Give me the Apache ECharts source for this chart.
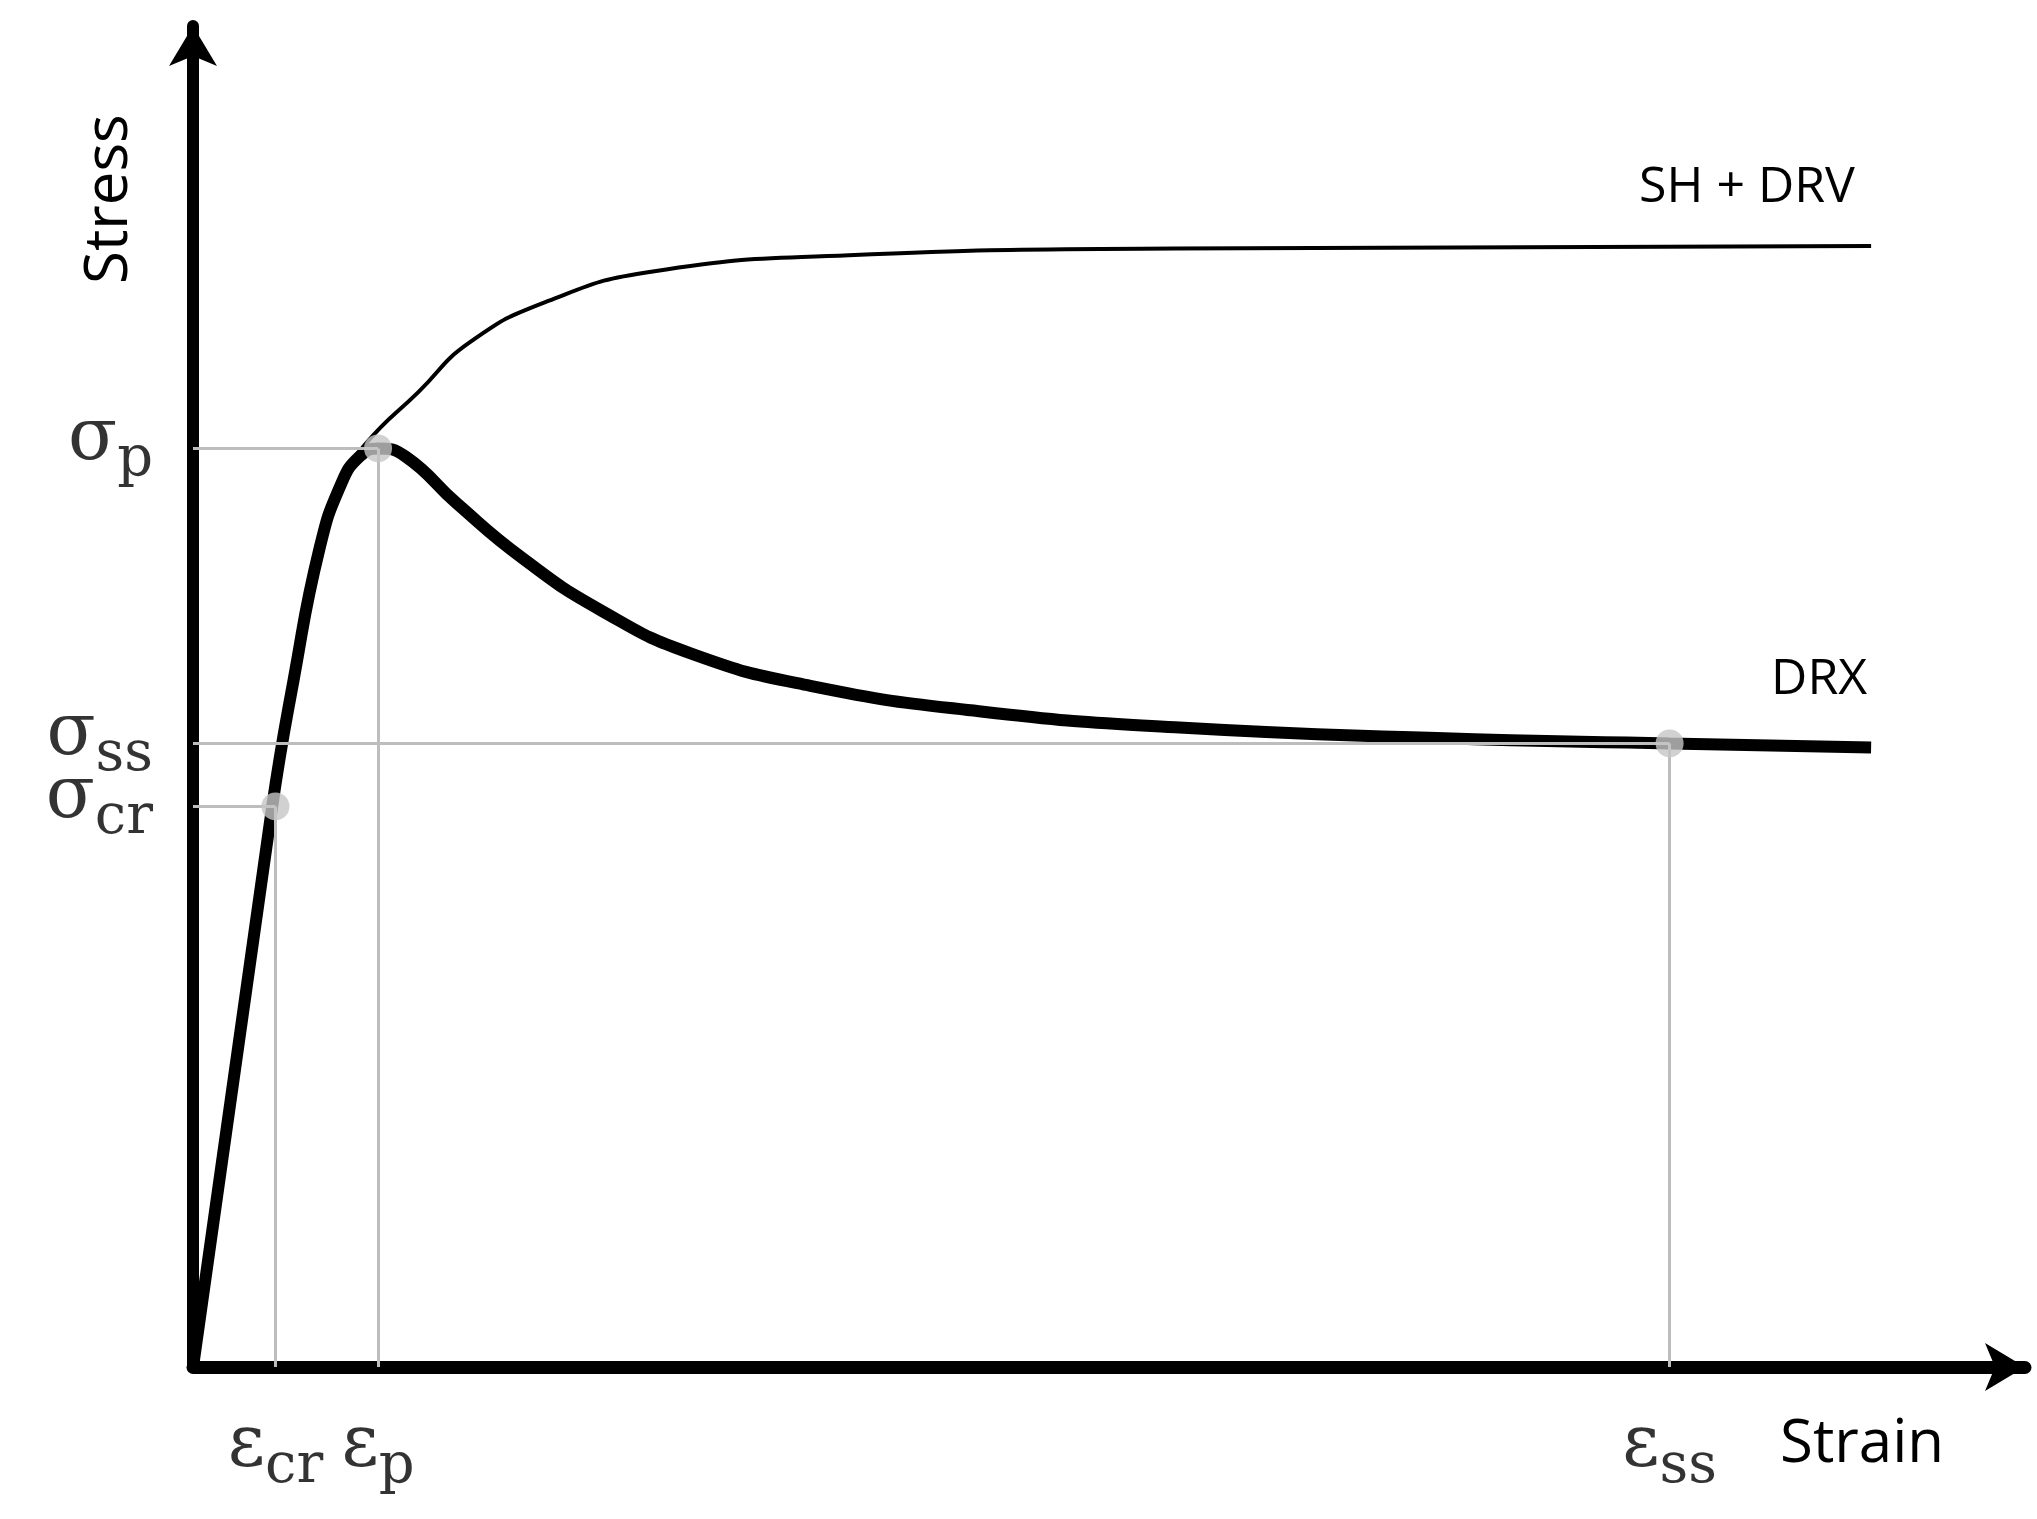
<!DOCTYPE html>
<html>
<head>
<meta charset="UTF-8" />
<script src="https://cdn.jsdelivr.net/npm/echarts@6.0.0/dist/echarts.min.js"></script>
<style>
  body { margin: 0; background: #fff; overflow: hidden; }
  #main { width: 2037px; height: 1519px; }
</style>
</head>
<body>
<div id="main"></div>
<script>
  // key strain / stress values (arbitrary units 0..100)
  const epsCr = 4.5, epsP = 10.1, epsSs = 80.6;
  const sigCr = 41.8, sigP = 68.5, sigSs = 46.5;

  // DRX curve (thick)
  const drx = [
    [0, 0], [4.3, 41.6], [5.5, 51.3], [6.9, 61.0], [8.1, 65.9], [9.1, 67.9],
    [10.1, 68.5], [11.6, 67.9], [14.4, 64.4], [18.0, 60.3], [22.3, 56.4],
    [27.2, 53.2], [33.7, 50.8], [42.9, 48.9], [53.6, 47.7], [67.9, 46.9],
    [80.6, 46.5], [91.6, 46.2]
  ];
  // SH + DRV curve (thin)
  const shdrv = [
    [0, 0], [4.3, 41.6], [5.5, 51.3], [6.9, 61.0], [8.1, 65.9], [9.4, 68.8],
    [12.3, 72.7], [15.1, 76.4], [19.4, 79.5], [25.1, 81.7], [35.8, 82.9],
    [53.6, 83.4], [91.6, 83.6]
  ];
  const keyPoints = [[epsCr, sigCr], [epsP, sigP], [epsSs, sigSs]];

  const serif = '"DejaVu Serif", serif';
  const sans = '"Open Sans", sans-serif';
  const rich = {
    g: { fontFamily: serif, fontSize: 72, color: '#000' },
    s: { fontFamily: serif, fontSize: 56, color: '#000', padding: [40, 0, 0, 0] }
  };

  const yLabels = [
    { value: [0, sigP], text: '{g|σ}{s|p}' },
    { value: [0, sigSs], text: '{g|σ}{s|ss}' },
    { value: [0, sigCr], text: '{g|σ}{s|cr}' }
  ];
  const xLabels = [
    { value: [epsCr, 0], text: '{g|ε}{s|cr}' },
    { value: [epsP, 0], text: '{g|ε}{s|p}' },
    { value: [epsSs, 0], text: '{g|ε}{s|ss}' }
  ];

  const chart = echarts.init(document.getElementById('main'));
  const gray = '#bdbdbd';

  const guide = (a, b) => [{ coord: a }, { coord: b }];

  chart.setOption({
    backgroundColor: '#fff',
    animation: false,
    grid: { left: 193, right: 12, top: 26, bottom: 152 },
    xAxis: {
      type: 'value', min: 0, max: 100,
      axisLine: { lineStyle: { color: '#000', width: 13 }, symbol: ['none', 'arrow'], symbolSize: [36, 40] },
      axisTick: { show: false }, axisLabel: { show: false }, splitLine: { show: false }
    },
    yAxis: {
      type: 'value', min: 0, max: 100,
      axisLine: { lineStyle: { color: '#000', width: 12 }, symbol: ['none', 'arrow'], symbolSize: [36, 40] },
      axisTick: { show: false }, axisLabel: { show: false }, splitLine: { show: false }
    },
    series: [
      {
        type: 'line', data: [], silent: true,
        markLine: {
          symbol: 'none', silent: true, label: { show: false },
          lineStyle: { color: gray, width: 3, type: 'solid' },
          data: [
            guide([0, sigP], [epsP, sigP]), guide([epsP, sigP], [epsP, 0]),
            guide([0, sigSs], [epsSs, sigSs]), guide([epsSs, sigSs], [epsSs, 0]),
            guide([0, sigCr], [epsCr, sigCr]), guide([epsCr, sigCr], [epsCr, 0])
          ]
        }
      },
      {
        name: 'SH + DRV', type: 'line', data: shdrv, smooth: true, showSymbol: false,
        lineStyle: { color: '#000', width: 4 },
        endLabel: { show: true, formatter: 'SH + DRV', fontFamily: sans, fontSize: 50, color: '#000', offset: [-240, -58] }
      },
      {
        name: 'DRX', type: 'line', data: drx, smooth: true, showSymbol: false,
        lineStyle: { color: '#000', width: 12 },
        endLabel: { show: true, formatter: 'DRX', fontFamily: sans, fontSize: 50, color: '#000', offset: [-108, -68] }
      },
      {
        type: 'scatter', data: keyPoints, symbolSize: 28, z: 5,
        itemStyle: { color: '#c6c6c6' }
      },
      {
        type: 'scatter', symbolSize: 0, silent: true,
        data: yLabels.map(d => ({ value: d.value, label: { formatter: d.text } })),
        label: { show: true, position: 'left', distance: 40, rich: rich, offset: [0, -8] }
      },
      {
        type: 'scatter', symbolSize: 0, silent: true,
        data: xLabels.map(d => ({ value: d.value, label: { formatter: d.text } })),
        label: { show: true, position: 'bottom', distance: 32, rich: rich }
      }
    ],
    graphic: [
      { type: 'text', left: 1780, top: 1415, style: { text: 'Strain', font: '60px "Open Sans"', fill: '#000' } },
      { type: 'text', x: 80, y: 284, rotation: Math.PI / 2, style: { text: 'Stress', font: '60px "Open Sans"', fill: '#000' } }
    ]
  });
</script>
</body>
</html>
